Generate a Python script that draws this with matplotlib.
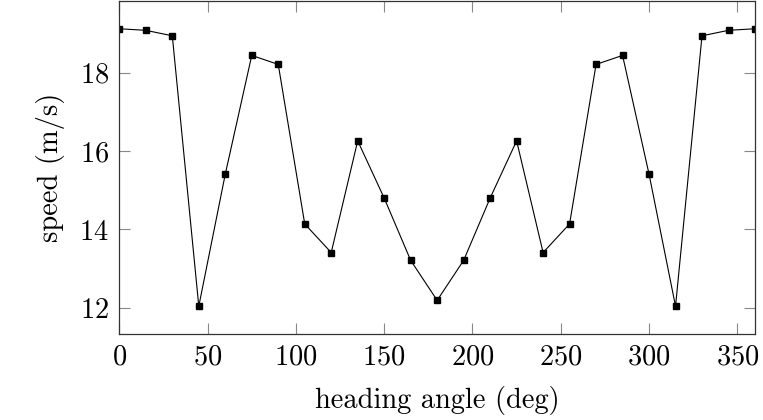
import numpy as np
import matplotlib
matplotlib.use("Agg")
import matplotlib.pyplot as plt

heading = np.arange(0, 361, 15)
speed = [19.12, 19.08, 18.94, 12.04, 15.41, 18.44, 18.21, 14.14, 13.41,
         16.26, 14.80, 13.21, 12.19, 13.21, 14.80, 16.26, 13.41, 14.14,
         18.21, 18.44, 15.41, 12.04, 18.94, 19.08, 19.12]

plt.rcParams["font.family"] = ["cmr10", "DejaVu Serif"]
plt.rcParams["mathtext.fontset"] = "cm"
plt.rcParams["axes.formatter.use_mathtext"] = True
plt.rcParams["font.size"] = 20.5

fig = plt.figure(figsize=(7.63, 4.2), dpi=100)
ax = fig.add_axes([0.1564, 0.2048, 0.8331, 0.7928])
ax.plot(heading, speed, color="black", lw=0.8, marker="s", markersize=5,
        markerfacecolor="black", markeredgecolor="black")

ax.set_xlim(0, 360)
span = max(speed) - min(speed)
ax.set_ylim(min(speed) - 0.1 * span, max(speed) + 0.1 * span)
ax.set_xticks([0, 50, 100, 150, 200, 250, 300, 350])
ax.set_yticks([12, 14, 16, 18])
ax.tick_params(direction="in", top=True, right=True, length=8, width=0.8,
               color="#888888", pad=7.5)
for s in ax.spines.values():
    s.set_linewidth(0.9)
    s.set_color("#333333")

ax.set_xlabel("heading angle (deg)", labelpad=11)
ax.set_ylabel("speed (m/s)", labelpad=10)

fig.savefig("out.png", dpi=100)
